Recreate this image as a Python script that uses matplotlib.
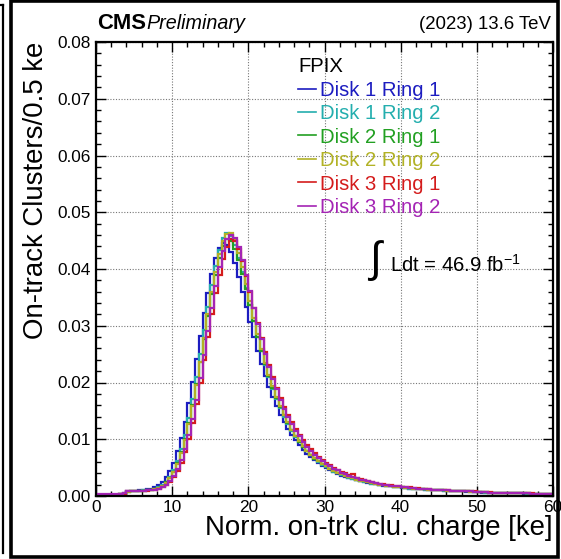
import numpy as np
import matplotlib
matplotlib.use("Agg")
import matplotlib.pyplot as plt
from matplotlib.patches import Rectangle
from matplotlib.lines import Line2D
from matplotlib.ticker import MultipleLocator, FormatStrFormatter

plt.rcParams['font.family'] = ['Liberation Sans', 'DejaVu Sans']
plt.rcParams['mathtext.fontset'] = 'custom'
plt.rcParams['mathtext.rm'] = 'Liberation Sans'
plt.rcParams['mathtext.it'] = 'Liberation Sans:italic'

# ---------------- data (bin width 0.5 ke, 0 - 60 ke) ----------------
bin_width = 0.5
x_min, x_max = 0.0, 60.0

labels = ["Disk 1 Ring 1", "Disk 1 Ring 2", "Disk 2 Ring 1",
          "Disk 2 Ring 2", "Disk 3 Ring 1", "Disk 3 Ring 2"]
colors = ["#1c1cc0", "#24aeae", "#22a022", "#b2b226", "#d41c1c", "#a424b4"]

d1r1 = [0.0002,0.0002,0.0002,0.0002,0.0002,0.0002,0.0003,0.0005,0.0008,0.0009,
        0.0009,0.0010,0.0011,0.0012,0.0013,0.0016,0.0019,0.0025,0.0033,0.0044,
        0.0059,0.0079,0.0102,0.0130,0.0163,0.0201,0.0241,0.0282,0.0322,0.0358,
        0.0392,0.0419,0.0437,0.0446,0.0443,0.0430,0.0410,0.0386,0.0360,0.0333,
        0.0306,0.0280,0.0255,0.0232,0.0211,0.0192,0.0174,0.0158,0.0143,0.0130,
        0.0118,0.0107,0.0098,0.0089,0.0081,0.0074,0.0068,0.0063,0.0058,0.0053,
        0.0049,0.0045,0.0042,0.0039,0.0036,0.0034,0.0032,0.0030,0.0028,0.0026,
        0.0025,0.0023,0.0022,0.0021,0.0019,0.0018,0.0017,0.0017,0.0016,0.0015,
        0.0014,0.0014,0.0013,0.0013,0.0012,0.0012,0.0011,0.0011,0.0010,0.0010,
        0.0010,0.0009,0.0009,0.0009,0.0008,0.0008,0.0008,0.0007,0.0007,0.0007,
        0.0007,0.0006,0.0006,0.0006,0.0006,0.0006,0.0005,0.0005,0.0005,0.0005,
        0.0005,0.0005,0.0004,0.0004,0.0004,0.0004,0.0004,0.0004,0.0003,0.0003]

d1r2 = [0.0002,0.0002,0.0002,0.0002,0.0002,0.0002,0.0003,0.0004,0.0007,0.0008,
        0.0008,0.0009,0.0010,0.0010,0.0011,0.0013,0.0015,0.0019,0.0025,0.0034,
        0.0046,0.0062,0.0082,0.0107,0.0137,0.0171,0.0209,0.0250,0.0292,0.0333,
        0.0371,0.0405,0.0434,0.0454,0.0463,0.0459,0.0443,0.0420,0.0394,0.0366,
        0.0337,0.0308,0.0281,0.0255,0.0231,0.0209,0.0189,0.0171,0.0155,0.0140,
        0.0127,0.0115,0.0104,0.0095,0.0086,0.0079,0.0072,0.0066,0.0060,0.0055,
        0.0051,0.0047,0.0043,0.0040,0.0037,0.0035,0.0032,0.0030,0.0028,0.0027,
        0.0025,0.0024,0.0022,0.0021,0.0020,0.0019,0.0018,0.0017,0.0016,0.0015,
        0.0015,0.0014,0.0013,0.0013,0.0012,0.0012,0.0011,0.0011,0.0011,0.0010,
        0.0010,0.0009,0.0009,0.0009,0.0008,0.0008,0.0008,0.0008,0.0007,0.0007,
        0.0007,0.0007,0.0006,0.0006,0.0006,0.0006,0.0006,0.0005,0.0005,0.0005,
        0.0005,0.0005,0.0005,0.0004,0.0004,0.0004,0.0004,0.0004,0.0004,0.0004]

d2r1 = [0.0002,0.0002,0.0002,0.0002,0.0002,0.0002,0.0003,0.0004,0.0007,0.0008,
        0.0008,0.0009,0.0009,0.0010,0.0011,0.0012,0.0014,0.0018,0.0024,0.0032,
        0.0043,0.0058,0.0077,0.0100,0.0128,0.0160,0.0197,0.0236,0.0277,0.0318,
        0.0356,0.0390,0.0419,0.0440,0.0452,0.0450,0.0436,0.0415,0.0391,0.0364,
        0.0336,0.0308,0.0281,0.0256,0.0233,0.0211,0.0191,0.0173,0.0157,0.0142,
        0.0128,0.0116,0.0105,0.0096,0.0087,0.0079,0.0072,0.0066,0.0061,0.0056,
        0.0052,0.0048,0.0044,0.0041,0.0038,0.0035,0.0033,0.0031,0.0029,0.0027,
        0.0026,0.0024,0.0023,0.0021,0.0020,0.0019,0.0018,0.0017,0.0016,0.0016,
        0.0015,0.0014,0.0014,0.0013,0.0013,0.0012,0.0012,0.0011,0.0011,0.0010,
        0.0010,0.0010,0.0009,0.0009,0.0009,0.0008,0.0008,0.0008,0.0008,0.0007,
        0.0007,0.0007,0.0007,0.0006,0.0006,0.0006,0.0006,0.0006,0.0005,0.0005,
        0.0005,0.0005,0.0005,0.0005,0.0004,0.0004,0.0004,0.0004,0.0004,0.0004]

d2r2 = [0.0002,0.0002,0.0002,0.0002,0.0002,0.0002,0.0003,0.0004,0.0007,0.0008,
        0.0008,0.0008,0.0009,0.0010,0.0011,0.0012,0.0014,0.0017,0.0023,0.0031,
        0.0042,0.0056,0.0075,0.0098,0.0126,0.0159,0.0196,0.0236,0.0278,0.0320,
        0.0359,0.0395,0.0426,0.0449,0.0462,0.0463,0.0451,0.0429,0.0403,0.0374,
        0.0344,0.0314,0.0286,0.0259,0.0235,0.0213,0.0193,0.0175,0.0158,0.0143,
        0.0130,0.0117,0.0106,0.0097,0.0088,0.0080,0.0073,0.0067,0.0061,0.0056,
        0.0052,0.0048,0.0044,0.0041,0.0038,0.0035,0.0033,0.0031,0.0029,0.0027,
        0.0026,0.0024,0.0023,0.0021,0.0020,0.0019,0.0018,0.0017,0.0016,0.0016,
        0.0015,0.0014,0.0014,0.0013,0.0012,0.0012,0.0012,0.0011,0.0011,0.0010,
        0.0010,0.0010,0.0009,0.0009,0.0009,0.0008,0.0008,0.0008,0.0007,0.0007,
        0.0007,0.0007,0.0007,0.0006,0.0006,0.0006,0.0006,0.0005,0.0005,0.0005,
        0.0005,0.0005,0.0005,0.0005,0.0004,0.0004,0.0004,0.0004,0.0004,0.0004]

d3r1 = [0.0002,0.0002,0.0002,0.0002,0.0002,0.0002,0.0003,0.0004,0.0008,0.0008,
        0.0008,0.0008,0.0009,0.0009,0.0010,0.0011,0.0012,0.0015,0.0019,0.0025,
        0.0033,0.0044,0.0059,0.0078,0.0101,0.0129,0.0162,0.0199,0.0239,0.0280,
        0.0320,0.0357,0.0390,0.0418,0.0439,0.0453,0.0450,0.0436,0.0414,0.0388,
        0.0360,0.0332,0.0304,0.0278,0.0254,0.0231,0.0210,0.0191,0.0173,0.0157,
        0.0143,0.0130,0.0118,0.0107,0.0098,0.0090,0.0082,0.0075,0.0069,0.0063,
        0.0058,0.0054,0.0050,0.0046,0.0042,0.0040,0.0037,0.0038,0.0032,0.0030,
        0.0028,0.0026,0.0025,0.0023,0.0022,0.0021,0.0020,0.0019,0.0018,0.0017,
        0.0016,0.0015,0.0015,0.0014,0.0014,0.0013,0.0012,0.0012,0.0011,0.0011,
        0.0011,0.0010,0.0010,0.0009,0.0009,0.0009,0.0008,0.0008,0.0008,0.0008,
        0.0007,0.0007,0.0007,0.0007,0.0006,0.0006,0.0006,0.0006,0.0005,0.0005,
        0.0005,0.0005,0.0005,0.0005,0.0005,0.0004,0.0004,0.0004,0.0004,0.0004]

d3r2 = [0.0003,0.0003,0.0003,0.0003,0.0003,0.0003,0.0004,0.0005,0.0008,0.0009,
        0.0009,0.0009,0.0009,0.0010,0.0010,0.0011,0.0013,0.0016,0.0020,0.0027,
        0.0035,0.0047,0.0063,0.0083,0.0107,0.0136,0.0170,0.0208,0.0249,0.0291,
        0.0332,0.0370,0.0404,0.0432,0.0452,0.0460,0.0455,0.0438,0.0415,0.0389,
        0.0361,0.0332,0.0303,0.0276,0.0251,0.0228,0.0207,0.0188,0.0170,0.0154,
        0.0140,0.0127,0.0115,0.0105,0.0096,0.0087,0.0080,0.0073,0.0067,0.0062,
        0.0057,0.0052,0.0048,0.0045,0.0041,0.0039,0.0036,0.0034,0.0031,0.0029,
        0.0028,0.0026,0.0024,0.0023,0.0022,0.0020,0.0019,0.0018,0.0017,0.0017,
        0.0016,0.0015,0.0014,0.0014,0.0013,0.0013,0.0012,0.0012,0.0011,0.0011,
        0.0010,0.0010,0.0010,0.0009,0.0009,0.0009,0.0008,0.0008,0.0008,0.0007,
        0.0007,0.0007,0.0007,0.0006,0.0006,0.0006,0.0006,0.0006,0.0005,0.0005,
        0.0005,0.0005,0.0005,0.0005,0.0004,0.0004,0.0004,0.0004,0.0004,0.0004]

series = [d1r1, d1r2, d2r1, d2r2, d3r1, d3r2]

# ---------------- figure ----------------
W, H = 561, 559
fig = plt.figure(figsize=(W / 100, H / 100), dpi=100)
fig.patch.set_facecolor("white")

def fx(px):
    return px / W

def fy(py):
    return 1 - py / H

ax_l, ax_r, ax_t, ax_b = 96, 553, 42, 496
ax = fig.add_axes([fx(ax_l), fy(ax_b), fx(ax_r) - fx(ax_l), fy(ax_t) - fy(ax_b)])

edges = np.linspace(x_min, x_max, len(d1r1) + 1)
handles = []
for vals, col, lab in zip(series, colors, labels):
    ax.stairs(vals, edges, color=col, lw=1.6, baseline=None)
    handles.append(Line2D([], [], color=col, lw=1.2, label=lab))

ax.set_xlim(x_min, x_max)
ax.set_ylim(0.0, 0.08)

ax.xaxis.set_major_locator(MultipleLocator(10))
ax.xaxis.set_minor_locator(MultipleLocator(2))
ax.yaxis.set_major_locator(MultipleLocator(0.01))
ax.yaxis.set_minor_locator(MultipleLocator(0.002))
ax.yaxis.set_major_formatter(FormatStrFormatter('%.2f'))

ax.tick_params(which='both', direction='in', top=True, right=True,
               width=1.0, color='black')
ax.tick_params(which='major', length=7, labelsize=12.4, pad=4)
ax.tick_params(which='minor', length=3.6)
ax.tick_params(axis='x', which='major', pad=3)

for s in ax.spines.values():
    s.set_linewidth(1.6)

ax.grid(True, which='major', color='#777777', linestyle=(0, (1, 1.5)), lw=0.8)
ax.set_axisbelow(True)

ax.set_xlabel("Norm. on-trk clu. charge [ke]", fontsize=19.9, ha='right', x=1.0,
              labelpad=0)
ax.set_ylabel("On-track Clusters/0.5 ke", fontsize=19.9, ha='right', y=1.0,
              labelpad=6)

# header texts
fig.text(fx(97), fy(29), "CMS", fontsize=15.8, fontweight='bold', ha='left',
         va='baseline')
fig.text(fx(146), fy(29), "Preliminary", fontsize=14.2, style='italic',
         ha='left', va='baseline')
fig.text(fx(551), fy(29), "(2023) 13.6 TeV", fontsize=13.4, ha='right',
         va='baseline')

# legend
leg = ax.legend(handles=handles, title="FPIX", loc='upper left',
                bbox_to_anchor=(fx(284), fy(43)), bbox_transform=fig.transFigure,
                frameon=False, fontsize=14.6, title_fontsize=14.6,
                handlelength=0.9, handletextpad=0.2, labelspacing=0.22,
                labelcolor='linecolor', borderpad=0.2)
leg._legend_box.align = "left"

# luminosity
fig.text(fx(369), fy(261), "\u222b", fontsize=31, ha='left', va='center')
fig.text(fx(390), fy(272), r"Ldt = 46.9 fb$^{\mathregular{-1}}$", fontsize=14.6,
         ha='left', va='baseline')

# outer frames
fig.add_artist(Rectangle((fx(11), fy(557)), fx(558) - fx(11), fy(1) - fy(557),
                         transform=fig.transFigure, fill=False, lw=2.6,
                         edgecolor='black'))
fig.add_artist(Line2D([fx(3), fx(3)], [fy(5), fy(553)], transform=fig.transFigure,
                      color='black', lw=1.6))
fig.add_artist(Line2D([fx(0), fx(3)], [fy(5), fy(5)], transform=fig.transFigure,
                      color='black', lw=1.6))

fig.savefig("out.png", dpi=100)
